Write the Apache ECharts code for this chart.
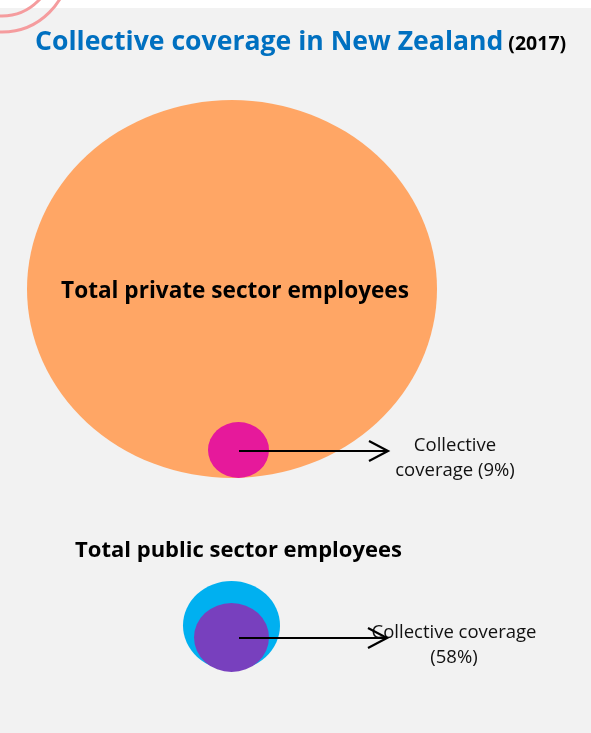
<!DOCTYPE html>
<html>
<head>
<meta charset="utf-8">
<title>Collective coverage in New Zealand (2017)</title>
<script src="https://cdn.jsdelivr.net/npm/echarts@6/dist/echarts.min.js"></script>
<style>
  html, body { margin: 0; padding: 0; background: #ffffff; }
  #chart { width: 591px; height: 733px; }
</style>
</head>
<body>
<div id="chart"></div>
<script>
// Sector groups and the share of each covered by a collective agreement (%)
const sectors = ['Total private sector employees', 'Total public sector employees'];
const coveragePct = [9, 58];
const coverageText = ['Collective\ncoverage ({v}%)', 'Collective coverage\n({v}%)'];

// Placement of the bubbles and pointers on a 591 x 733 canvas
const layout = {
  totalCenters: [[232, 289], [231.5, 625.5]],
  totalSizes: [[410, 378], [97, 89]],
  totalColors: ['#FFA665', '#00B0F0'],
  coveredCenters: [[238.5, 450], [231.5, 637.5]],
  coveredSizes: [[61, 56], [75, 69]],
  coveredColors: ['#E6199B', '#7840BE'],
  arrows: [[239, 451, 388], [239, 638, 387]]
};

const FONT = '"Open Sans", "Noto Sans", sans-serif';

const chart = echarts.init(document.getElementById('chart'), null, { renderer: 'canvas' });

const totalData = sectors.map((name, i) => ({
  name: name,
  value: layout.totalCenters[i],
  itemStyle: { color: layout.totalColors[i] },
  label: i === 0
    ? { position: 'inside', offset: [3, 3], fontSize: 22.6 }
    : { position: 'top', distance: 19, offset: [7, 0], fontSize: 22 }
}));

const coveredData = coveragePct.map((v, i) => ({
  name: sectors[i],
  value: layout.coveredCenters[i].concat(v),
  itemStyle: { color: layout.coveredColors[i] }
}));

const arrowData = coveragePct.map((v, i) => layout.arrows[i].concat(v));

const option = {
  animation: false,
  backgroundColor: '#ffffff',
  title: {
    left: 30,
    top: 24,
    text: '{main|Collective coverage in New Zealand} {year|(2017)}',
    textStyle: {
      rich: {
        main: { fontFamily: FONT, fontWeight: 'bold', fontSize: 26.6, color: '#0070C0' },
        year: { fontFamily: FONT, fontWeight: 'bold', fontSize: 19.5, color: '#000000', padding: [4, 0, 0, 0] }
      }
    }
  },
  graphic: [
    { type: 'rect', z: -10, shape: { x: 0, y: 8, width: 591, height: 725 }, style: { fill: '#F2F2F2' }, silent: true },
    { type: 'circle', z: -9, shape: { cx: 2, cy: -35, r: 67 }, style: { fill: null, stroke: '#F59C9E', lineWidth: 3 }, silent: true },
    { type: 'circle', z: -9, shape: { cx: 2, cy: -35, r: 51 }, style: { fill: null, stroke: '#F59C9E', lineWidth: 3 }, silent: true }
  ],
  grid: { left: 0, right: 0, top: 0, bottom: 0 },
  xAxis: { type: 'value', min: 0, max: 591, show: false },
  yAxis: { type: 'value', min: 0, max: 733, inverse: true, show: false },
  series: [
    {
      name: 'Employees',
      type: 'scatter',
      z: 2,
      symbol: 'circle',
      symbolSize: (val, p) => layout.totalSizes[p.dataIndex],
      itemStyle: { opacity: 1 },
      label: {
        show: true,
        formatter: p => p.name,
        fontFamily: FONT,
        fontWeight: 'bold',
        fontSize: 22,
        color: '#000000'
      },
      data: totalData
    },
    {
      name: 'Collective coverage',
      type: 'scatter',
      z: 3,
      symbol: 'circle',
      symbolSize: (val, p) => layout.coveredSizes[p.dataIndex],
      itemStyle: { opacity: 1 },
      data: coveredData
    },
    {
      name: 'Pointer',
      type: 'custom',
      z: 4,
      renderItem: (params, api) => {
        const i = params.dataIndex;
        const a = api.coord([api.value(0), api.value(1)]);
        const b = api.coord([api.value(2), api.value(1)]);
        const txt = coverageText[i].replace('{v}', api.value(3));
        return {
          type: 'group',
          children: [
            {
              type: 'text',
              x: b[0] + 67,
              y: b[1] + 7,
              style: {
                text: txt,
                align: 'center',
                verticalAlign: 'middle',
                fontFamily: FONT,
                fontSize: 18.5,
                lineHeight: 25,
                fill: '#111111'
              }
            },
            {
              type: 'line',
              shape: { x1: a[0], y1: a[1], x2: b[0], y2: b[1] },
              style: { stroke: '#000000', lineWidth: 2 }
            },
            {
              type: 'polyline',
              shape: { points: [[b[0] - 19, b[1] - 10], [b[0], b[1]], [b[0] - 19, b[1] + 10]] },
              style: { stroke: '#000000', lineWidth: 2.2, fill: null }
            }
          ]
        };
      },
      data: arrowData
    }
  ]
};

chart.setOption(option);
</script>
</body>
</html>
